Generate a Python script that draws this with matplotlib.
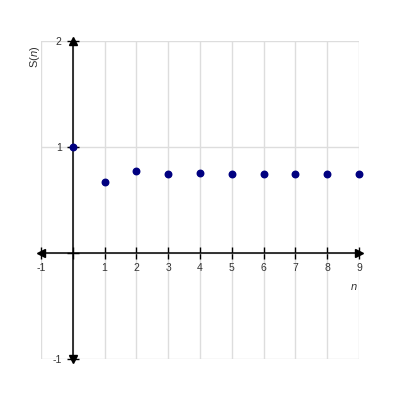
import numpy as np
import matplotlib.pyplot as plt

plt.rcParams['font.family'] = ['Liberation Sans', 'DejaVu Sans']
plt.rcParams['mathtext.fontset'] = 'custom'
plt.rcParams['mathtext.it'] = 'Liberation Sans:italic'

# данные: частичные суммы S(n)
n = [0, 1, 2, 3, 4, 5, 6, 7, 8, 9]
S = [1.0, 0.667, 0.778, 0.741, 0.753, 0.749, 0.750, 0.750, 0.750, 0.750]

x_ticks = list(range(-1, 10))
y_ticks = [-1, 0, 1, 2]
x_labels = ['' if v == 0 else str(v) for v in x_ticks]
y_labels = ['' if v == 0 else str(v) for v in y_ticks]

fig = plt.figure(figsize=(4, 4), dpi=100)
ax = fig.add_axes([0.1025, 0.1025, 0.795, 0.795])
ax.set_xlim(-1, 9)
ax.set_ylim(-1, 2)

ax.grid(True, color='#dddddd', linewidth=1)
ax.set_axisbelow(True)

for side in ['top', 'right']:
    ax.spines[side].set_visible(False)
ax.spines['left'].set_position(('data', 0))
ax.spines['bottom'].set_position(('data', 0))
ax.spines['left'].set_linewidth(1.1)
ax.spines['bottom'].set_linewidth(1.1)

ax.set_xticks(x_ticks)
ax.set_xticklabels(x_labels)
ax.set_yticks(y_ticks)
ax.set_yticklabels(y_labels)
ax.tick_params(axis='both', direction='inout', length=8, width=1,
               labelsize=7.5, labelcolor='#333333')
ax.tick_params(axis='x', pad=3)
ax.tick_params(axis='y', pad=4)

# стрелки на осях
ax.plot(1, 0, '>k', ms=5.5, transform=ax.get_yaxis_transform(), clip_on=False)
ax.plot(0, 0, '<k', ms=5.5, transform=ax.get_yaxis_transform(), clip_on=False)
ax.plot(0, 1, '^k', ms=5.5, transform=ax.get_xaxis_transform(), clip_on=False)
ax.plot(0, 0, 'vk', ms=5.5, transform=ax.get_xaxis_transform(), clip_on=False)

ax.scatter(n, S, s=22, color='#000080', zorder=5, clip_on=False)

ax.text(8.85, -0.32, '$n$', fontsize=8, color='#333333', ha='center', va='center')
ax.text(-0.02, 0.95, 'S($n$)', fontsize=8, color='#333333', rotation=90,
        ha='center', va='center', transform=ax.transAxes)

plt.savefig('out.png')
